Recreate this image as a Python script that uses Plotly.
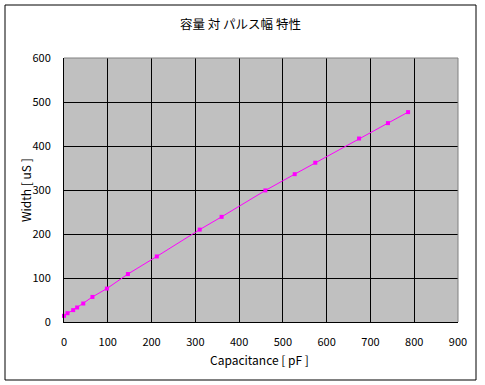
import plotly.graph_objects as go

capacitance = [0, 8, 21, 30, 44, 65, 98, 146, 212, 310, 360, 460, 527, 574, 674, 740, 786]
width_us = [14, 20, 27, 33, 42, 57, 76, 109, 149, 210, 239, 299, 336, 362, 417, 452, 477]

title_text = "容量 対 パルス幅 特性"
x_title = "Capacitance [ pF ]"
y_title = "Width [ uS ]"

font_main = "Noto Sans CJK JP, DejaVu Sans, sans-serif"

fig = go.Figure()
fig.add_trace(go.Scatter(
    x=capacitance, y=width_us, mode="lines+markers",
    line=dict(color="#FF00FF", width=1),
    marker=dict(color="#FF00FF", size=4, symbol="square"),
    showlegend=False, cliponaxis=False,
))

L, R, T, B = 64, 27, 58, 63
PW, PH = 485 - L - R, 385 - T - B

def px(xp):
    return (xp - L) / PW

def py(yp):
    return (385 - B - yp) / PH

fig.update_layout(
    width=485, height=385,
    margin=dict(l=L, r=R, t=T, b=B, pad=0),
    paper_bgcolor="white", plot_bgcolor="#C0C0C0",
    font=dict(family=font_main, size=11, color="black"),
    xaxis=dict(range=[0, 900], dtick=100, tick0=0, showgrid=True, gridcolor="black",
               gridwidth=1, zeroline=False, showline=True, linecolor="black", linewidth=1,
               ticks="", ticklabelstandoff=10, tickfont=dict(size=11), fixedrange=True),
    yaxis=dict(range=[0, 600], dtick=100, tick0=0, showgrid=True, gridcolor="black",
               gridwidth=1, zeroline=False, showline=True, linecolor="black", linewidth=1,
               ticks="", ticklabelstandoff=10, tickfont=dict(size=11), fixedrange=True),
    shapes=[
        dict(type="rect", xref="paper", yref="paper", x0=px(5), x1=px(476), y0=py(380), y1=py(5),
             line=dict(color="black", width=1), fillcolor="rgba(0,0,0,0)", layer="below"),
        dict(type="line", xref="paper", yref="paper", x0=0, x1=1, y0=1, y1=1,
             line=dict(color="#808080", width=1), layer="above"),
        dict(type="line", xref="paper", yref="paper", x0=1, x1=1, y0=0, y1=1,
             line=dict(color="#808080", width=1), layer="above"),
    ],
    annotations=[
        dict(text=title_text, xref="paper", yref="paper", x=px(240), y=py(24),
             showarrow=False, font=dict(size=12.5, family=font_main), xanchor="center", yanchor="middle"),
        dict(text=x_title, xref="paper", yref="paper", x=px(259), y=py(359),
             showarrow=False, font=dict(size=12, family=font_main), xanchor="center", yanchor="middle"),
        dict(text=y_title, xref="paper", yref="paper", x=px(25), y=py(190), textangle=-90,
             showarrow=False, font=dict(size=12, family=font_main), xanchor="center", yanchor="middle"),
    ],
)

fig.write_html("out.html", config={"displayModeBar": False},
               post_script="document.body.style.margin='0';document.body.style.overflow='hidden';")
